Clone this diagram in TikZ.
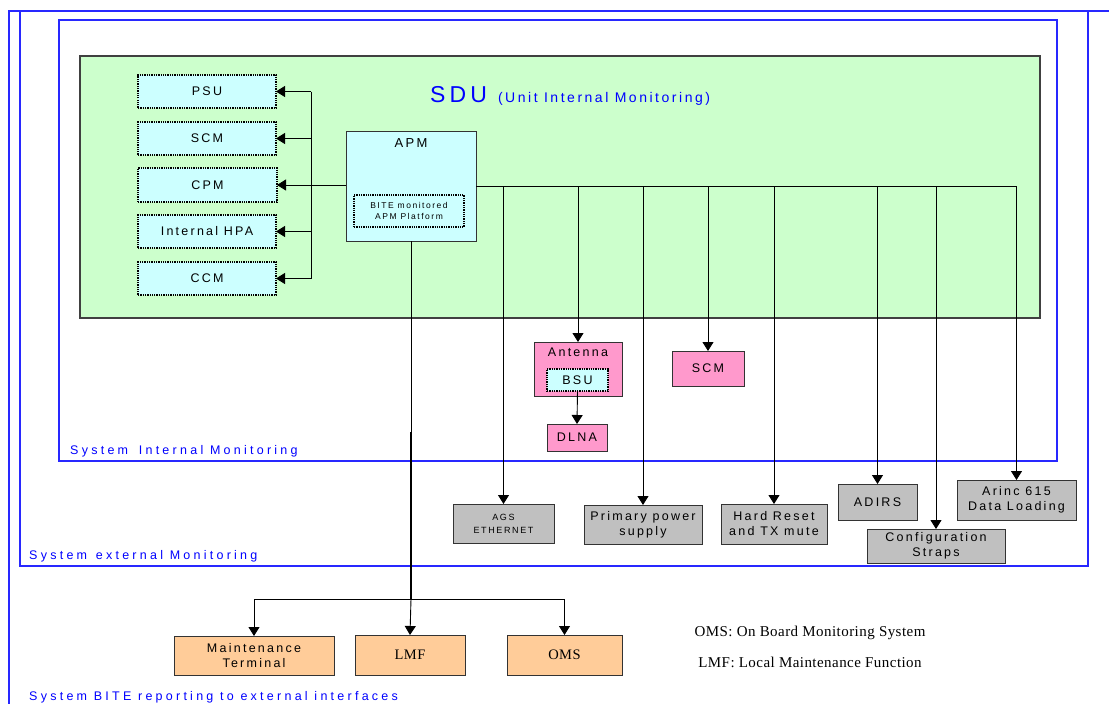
\documentclass[tikz,border=0pt]{standalone}
\usepackage{fontspec}
\setmainfont{Liberation Sans}
\newfontfamily\wide[LetterSpace=18]{Liberation Sans}
\newfontfamily\wider[LetterSpace=26]{Liberation Sans}
\newfontfamily\serifw[LetterSpace=3]{Liberation Serif}
\usetikzlibrary{arrows.meta}
\definecolor{sdugreen}{HTML}{CCFFCC}
\definecolor{cyanbox}{HTML}{CCFFFF}
\definecolor{pinkbox}{HTML}{FF99CC}
\definecolor{graybox}{HTML}{C0C0C0}
\definecolor{orangebox}{HTML}{FFCC99}
\definecolor{frameblue}{RGB}{40,40,255}
\definecolor{textblue}{RGB}{0,0,255}
\newcommand\bx[7]{\node[#2, minimum width={(#5-#3)*1pt}, minimum height={(#6-#4)*1pt}] (#1) at ({(#3+#5)/2},{(#4+#6)/2}) {#7};}
\tikzset{
  base/.style={draw=black!80, line width=1pt, inner sep=0pt, outer sep=0pt, align=center, font=\wide\fontsize{12.5}{15}\selectfont},
  dotbox/.style={base, fill=cyanbox, draw=black, line width=1.8pt, dash pattern=on 1.3pt off 1pt},
  apmbox/.style={base, fill=cyanbox},
  pinkb/.style={base, fill=pinkbox},
  grayb/.style={base, fill=graybox},
  orangeb/.style={base, fill=orangebox},
  arr/.style={draw=black, line width=0.9pt, -{Triangle[width=11pt,length=9pt]}},
  conn/.style={draw=black, line width=0.9pt},
  frame/.style={draw=frameblue, line width=1.3pt},
  bluelbl/.style={text=textblue, anchor=west, inner sep=0pt, font=\wider\fontsize{12.5}{14}\selectfont},
}
\begin{document}
\begin{tikzpicture}[x=1pt,y=-1pt]
\useasboundingbox (0,0) rectangle (1109,704);
% containers
\draw[frame] (9,730) -- (9,11) -- (1120,11);
\draw[frame] (20,11) rectangle (1088,566);
\draw[frame] (59,20) rectangle (1057,461);
\draw[draw=black!75, line width=1.2pt, fill=sdugreen] (80,56) rectangle (1040,318);
% container labels
\node[bluelbl] (lint) at (70,451) {System\ \hspace{4pt}Internal Monitoring};
\node[bluelbl] (lext) at (29,556) {System\ \hspace{2pt}external Monitoring};
\node[bluelbl] (lbite) at (29,697) {System BITE reporting to external interfaces};
\node[anchor=base west, inner sep=0pt, text=textblue] (sdu) at (430,102) {\wide\fontsize{23}{25}\selectfont SDU\hspace{11pt}\fontsize{14}{16}\selectfont(Unit Internal Monitoring)};
% internal boxes
\bx{psu}{dotbox}{138}{75}{276}{108}{PSU}
\bx{scm}{dotbox}{138}{122}{276}{155}{SCM}
\bx{cpm}{dotbox}{138}{168}{277}{202}{CPM}
\bx{hpa}{dotbox}{138}{215}{276}{248}{Internal HPA}
\bx{ccm}{dotbox}{138}{262}{276}{295}{CCM}
\bx{apm}{apmbox}{346}{131}{476}{241}{}
\node[inner sep=0pt, font=\wide\fontsize{13}{15}\selectfont] (apml) at (411,143) {APM};
\bx{bite}{dotbox, font=\wide\fontsize{8.5}{10.5}\selectfont}{354}{195}{464}{227}{BITE monitored\\APM Platform}
% pink
\bx{ant}{pinkb}{534}{342}{622}{396}{}
\node[inner sep=0pt, font=\wide\fontsize{12.5}{15}\selectfont] (antl) at (578,352) {Antenna};
\bx{bsu}{dotbox}{547}{369}{608}{391}{BSU}
\bx{dlna}{pinkb}{547}{424}{607}{451}{DLNA}
\bx{scm2}{pinkb}{672}{351}{744}{386}{SCM}
% gray
\bx{ags}{grayb, font=\wide\fontsize{9}{13}\selectfont}{453}{504}{554}{543}{AGS\\ETHERNET}
\bx{pps}{grayb}{584}{505}{702}{544}{Primary power\\supply}
\bx{hrst}{grayb}{721}{504}{827}{544}{Hard Reset\\and TX mute}
\bx{adirs}{grayb}{838}{484}{917}{520}{ADIRS}
\bx{cfg}{grayb}{867}{529}{1005}{563}{Configuration\\Straps}
\bx{arinc}{grayb}{957}{480}{1076}{520}{Arinc 615\\Data Loading}
% orange
\bx{mt}{orangeb}{174}{636}{334}{675}{Maintenance\\Terminal}
\bx{lmf}{orangeb, font=\serifw\fontsize{14.5}{16}\selectfont}{355}{635}{465}{675}{LMF}
\bx{oms}{orangeb, font=\serifw\fontsize{14.5}{16}\selectfont}{507}{635}{622}{675}{OMS}
% legend
\node[inner sep=0pt, font=\serifw\fontsize{15}{17}\selectfont] (leg1) at (810,633) {OMS: On Board Monitoring System};
\node[inner sep=0pt, font=\serifw\fontsize{15}{17}\selectfont] (leg2) at (810,662) {LMF: Local Maintenance Function};
% left bus
\coordinate (bus) at (311,0);
\draw[conn] (bus |- psu.east) -- (bus |- ccm.east);
\draw[arr] (bus |- psu.east) -- (psu.east);
\draw[arr] (bus |- scm.east) -- (scm.east);
\draw[arr] (bus |- hpa.east) -- (hpa.east);
\draw[arr] (bus |- ccm.east) -- (ccm.east);
\draw[arr] (apm.west |- cpm.east) -- (cpm.east);
% right bus
\coordinate (hr) at (1017,186);
\draw[conn] (apm.east |- hr) -- (hr);
\draw[arr] (ags.north |- hr) -- (ags.north);
\draw[arr] (ant.north |- hr) -- (ant.north);
\draw[arr] (pps.north |- hr) -- (pps.north);
\draw[arr] (scm2.north |- hr) -- (scm2.north);
\draw[arr] (hrst.north |- hr) -- (hrst.north);
\draw[arr] (adirs.north |- hr) -- (adirs.north);
\draw[arr] (cfg.north |- hr) -- (cfg.north);
\draw[arr] (arinc.north |- hr) -- (arinc.north);
\draw[arr] (bsu.south) -- (dlna.north);
% reporting
\coordinate (thk) at (411,432);
\coordinate (split) at (411,599);
\draw[conn] (apm.south) -- (thk);
\draw[draw=black, line width=2.6pt] (thk) -- (split);
\draw[conn] (mt.north |- split) -- (oms.north |- split);
\draw[arr] (mt.north |- split) -- (mt.north);
\draw[arr] (split) -- (lmf.north);
\draw[arr] (oms.north |- split) -- (oms.north);
\end{tikzpicture}
\end{document}
